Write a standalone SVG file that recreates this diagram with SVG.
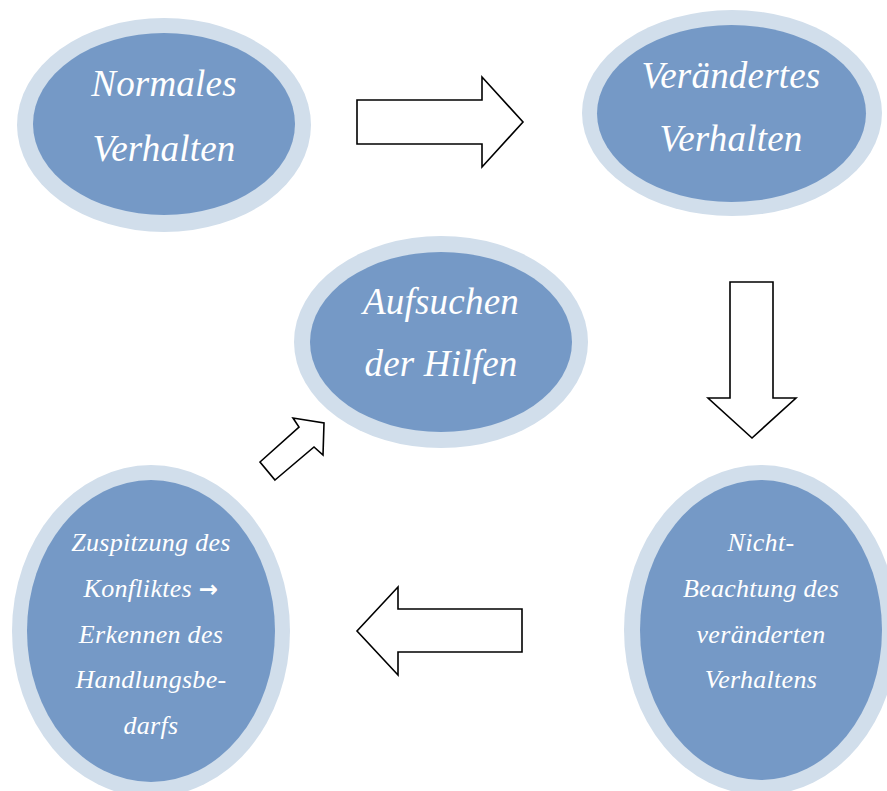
<svg xmlns="http://www.w3.org/2000/svg" width="887" height="791" viewBox="0 0 887 791">
<style>
.outer{fill:#D1DEEB}
.inner{fill:#7599C6}
.big{font-family:"Liberation Serif","Times New Roman",serif;font-style:italic;font-size:37px;letter-spacing:0.2px;fill:#fff;text-anchor:middle}
.small{font-family:"Liberation Serif","Times New Roman",serif;font-style:italic;font-size:26px;letter-spacing:0.3px;fill:#fff;text-anchor:middle}
.arr{fill:#fff;stroke:#000;stroke-width:1.6;stroke-linejoin:miter}
</style>
<rect width="887" height="791" fill="#fff"/>
<g id="connectors">
<polygon class="arr" points="357,100 482,100 482,77 523,122 482,167 482,144 357,144"/>
<polygon class="arr" points="730,282 773,282 773,398 796,398 752,438 708,398 730,398"/>
<polygon class="arr" points="522,609 398,609 398,587 357,631 398,675 398,652 522,652"/>
<polygon class="arr" points="275,480 314,447 323,455 324,423 293,418 299,427 260,462"/>
</g>
<g id="normales">
<ellipse class="outer" cx="164" cy="125" rx="147" ry="107"/>
<ellipse class="inner" cx="164" cy="124" rx="131" ry="91"/>
<text class="big" x="164" y="96">Normales</text>
<text class="big" x="164" y="161">Verhalten</text>
</g>
<g id="veraendertes">
<ellipse class="outer" cx="732" cy="113" rx="150" ry="103"/>
<ellipse class="inner" cx="731.5" cy="113.5" rx="134.5" ry="88.5"/>
<text class="big" x="731" y="88">Verändertes</text>
<text class="big" x="731" y="151">Verhalten</text>
</g>
<g id="aufsuchen">
<ellipse class="outer" cx="441" cy="342" rx="147" ry="106"/>
<ellipse class="inner" cx="441" cy="342" rx="131" ry="90"/>
<text class="big" x="441" y="314">Aufsuchen</text>
<text class="big" x="441" y="376">der Hilfen</text>
</g>
<g id="zuspitzung">
<ellipse class="outer" cx="151" cy="631" rx="139" ry="166"/>
<ellipse class="inner" cx="151" cy="631" rx="124" ry="151"/>
<text class="small" x="151" y="551">Zuspitzung des</text>
<text class="small" x="151" y="597">Konfliktes <tspan font-family="'DejaVu Sans',sans-serif" font-style="normal" font-weight="bold" font-size="23">→</tspan></text>
<text class="small" x="151" y="643">Erkennen des</text>
<text class="small" x="151" y="688">Handlungsbe-</text>
<text class="small" x="151" y="734">darfs</text>
</g>
<g id="nichtbeachtung">
<ellipse class="outer" cx="761" cy="630" rx="137" ry="165"/>
<ellipse class="inner" cx="761" cy="630" rx="121" ry="150"/>
<text class="small" x="761" y="551">Nicht-</text>
<text class="small" x="761" y="597">Beachtung des</text>
<text class="small" x="761" y="643">veränderten</text>
<text class="small" x="761" y="688">Verhaltens</text>
</g>
</svg>
